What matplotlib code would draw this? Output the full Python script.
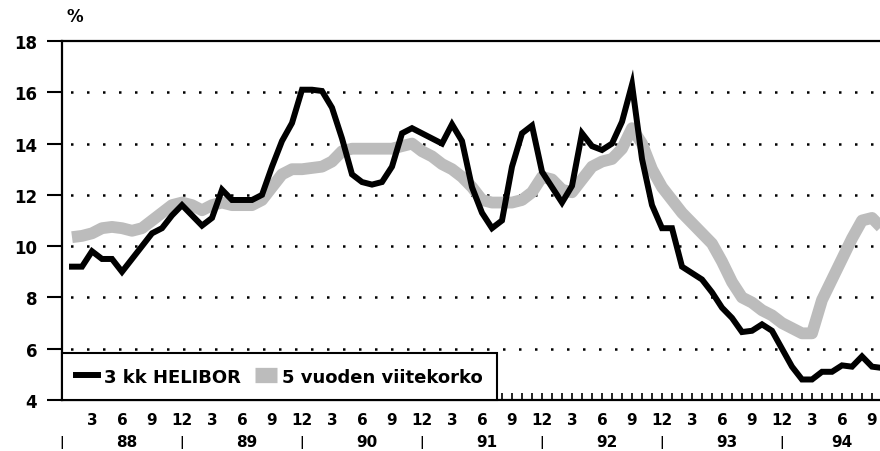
import numpy as np
import matplotlib
matplotlib.use('Agg')
import matplotlib.pyplot as plt

# kuukausi-indeksi: 1 = tammikuu 1988
months = np.arange(1, 83)

helibor = [9.2, 9.2, 9.8, 9.5, 9.5, 9.0, 9.5, 10.0, 10.5, 10.7,
           11.2, 11.6, 11.2, 10.8, 11.1, 12.2, 11.8, 11.8, 11.8, 12.0,
           13.1, 14.1, 14.8, 16.1, 16.1, 16.05, 15.4, 14.2, 12.8, 12.5,
           12.4, 12.5, 13.1, 14.4, 14.6, 14.4, 14.2, 14.0, 14.75, 14.1,
           12.3, 11.3, 10.7, 11.0, 13.1, 14.4, 14.7, 12.9, 12.3, 11.7,
           12.35, 14.4, 13.9, 13.75, 14.0, 14.85, 16.3, 13.4, 11.6, 10.7,
           10.7, 9.2, 8.95, 8.7, 8.2, 7.6, 7.2, 6.65, 6.7, 6.95,
           6.7, 6.0, 5.3, 4.8, 4.8, 5.1, 5.1, 5.35, 5.3, 5.7,
           5.3, 5.25]

viitekorko = [10.35, 10.4, 10.5, 10.7, 10.75, 10.7, 10.6, 10.7, 11.0, 11.3,
              11.6, 11.7, 11.6, 11.4, 11.6, 11.7, 11.6, 11.6, 11.6, 11.8,
              12.3, 12.8, 13.0, 13.0, 13.05, 13.1, 13.3, 13.7, 13.8, 13.8,
              13.8, 13.8, 13.8, 13.9, 14.0, 13.7, 13.5, 13.2, 13.0, 12.7,
              12.3, 11.8, 11.7, 11.7, 11.7, 11.8, 12.1, 12.7, 12.6, 12.2,
              12.1, 12.6, 13.1, 13.3, 13.4, 13.8, 14.6, 14.0, 13.0, 12.3,
              11.8, 11.3, 10.9, 10.5, 10.1, 9.4, 8.6, 8.0, 7.8, 7.5,
              7.3, 7.0, 6.8, 6.6, 6.6, 7.9, 8.7, 9.5, 10.3, 11.0,
              11.1, 10.7]

years = ['88', '89', '90', '91', '92', '93', '94']
year_pos = [6.5, 18.5, 30.5, 42.5, 54.5, 66.5, 78]
year_sep = [0, 12, 24, 36, 48, 60, 72]

plt.rcParams['font.family'] = ['DejaVu Sans']

fig = plt.figure(figsize=(8.8, 4.52), dpi=100)
ax = fig.add_axes([62/880, 51/452, 818/880, 359/452])

ax.plot(months, viitekorko, color='#bcbcbc', lw=8.5, solid_capstyle='butt',
        solid_joinstyle='round', label='5 vuoden viitekorko', zorder=2)
ax.plot(months, helibor, color='black', lw=4.3, solid_joinstyle='miter',
        label='3 kk HELIBOR', zorder=3)

ax.set_xlim(0, 81.8)
ax.set_ylim(4, 18)

ax.set_yticks(range(4, 19, 2))
for yv in range(6, 17, 2):
    ax.axhline(yv, color='black', lw=1.8, linestyle=(3, (1, 5.4)), zorder=1)

ticks = np.arange(0, 82)
labels = []
for m in ticks:
    if m > 0 and m % 3 == 0:
        labels.append(str(12 if m % 12 == 0 else m % 12))
    else:
        labels.append('')
ax.set_xticks(ticks)
ax.set_xticklabels(labels, fontsize=11, fontweight='bold')
ax.tick_params(axis='x', direction='in', length=5, width=1.2, pad=9)
ax.tick_params(axis='y', direction='out', length=11, width=1.5, pad=7,
               labelsize=12)
for t in ax.get_yticklabels():
    t.set_fontweight('bold')

for s in ['left', 'bottom', 'top']:
    ax.spines[s].set_linewidth(1.6)
ax.spines['right'].set_visible(False)

tr = ax.get_xaxis_transform()
for x in year_sep:
    ax.text(x, -0.115, '|', transform=tr, ha='center', va='center',
            fontsize=9, fontweight='bold', clip_on=False)
for x, lab in zip(year_pos, years):
    ax.text(x, -0.115, lab, transform=tr, ha='center', va='center',
            fontsize=11, fontweight='bold', clip_on=False)

ax.text(0.016, 1.07, '%', transform=ax.transAxes, ha='center', va='center',
        fontsize=12, fontweight='bold')

h, l = ax.get_legend_handles_labels()
leg = ax.legend(h[::-1], l[::-1], loc='lower left', ncol=2,
                bbox_to_anchor=(0, 0, 0.532, 0.123), mode='expand',
                borderaxespad=0, frameon=True, fancybox=False,
                handlelength=1.2, handletextpad=0.3, columnspacing=0.6,
                borderpad=0.8, prop={'size': 13, 'weight': 'bold'})
leg.legend_handles[1].set_linewidth(11)
leg.get_frame().set_edgecolor('black')
leg.get_frame().set_linewidth(1.5)
leg.get_frame().set_alpha(1)
leg.set_zorder(5)

fig.savefig('out.png', dpi=100)
